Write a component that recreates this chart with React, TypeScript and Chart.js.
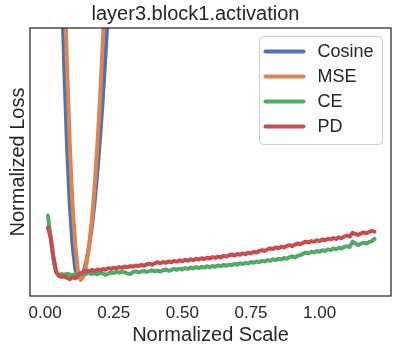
import React, { useEffect, useRef } from "react";
import { Chart, registerables } from "chart.js";

Chart.register(...registerables);

const TITLE = "layer3.block1.activation";
const X_LABEL = "Normalized Scale";
const Y_LABEL = "Normalized Loss";
const X_TICKS = [0, 0.25, 0.5, 0.75, 1.0];
const SERIES_NAMES = ["Cosine", "MSE", "CE", "PD"];
const COLORS = ["#4C72B0", "#DD8452", "#55A868", "#C44E52"];

// Cosine (blue) – steep V, leaves the plot at both sides
const COS_X = [0.04, 0.05, 0.06, 0.07, 0.08, 0.09, 0.1, 0.11, 0.12, 0.13, 0.14, 0.15, 0.16, 0.17, 0.18, 0.19, 0.2, 0.21, 0.22, 0.23, 0.24, 0.25];
const COS_Y = [2.1, 1.6, 1.19, 0.85, 0.56, 0.34, 0.19, 0.1, 0.07, 0.075, 0.09, 0.128, 0.183, 0.256, 0.348, 0.459, 0.587, 0.735, 0.9, 1.08, 1.29, 1.52];

// MSE (orange)
const MSE_X = [0.05, 0.06, 0.07, 0.08, 0.09, 0.1, 0.11, 0.12, 0.13, 0.14, 0.15, 0.16, 0.17, 0.18, 0.19, 0.2, 0.21, 0.22, 0.23];
const MSE_Y = [2.08, 1.6, 1.19, 0.85, 0.56, 0.34, 0.19, 0.09, 0.06, 0.074, 0.115, 0.184, 0.28, 0.405, 0.557, 0.736, 0.943, 1.178, 1.44];

// CE / PD sampled on a common grid
const XS = [
  0.01, 0.02, 0.03, 0.04, 0.05, 0.06, 0.07, 0.08, 0.09, 0.1,
  0.11, 0.12, 0.13, 0.14, 0.15, 0.16, 0.17, 0.18, 0.19, 0.2,
  0.21, 0.22, 0.23, 0.24, 0.25, 0.26, 0.27, 0.28, 0.29, 0.3,
  0.31, 0.32, 0.33, 0.34, 0.35, 0.36, 0.37, 0.38, 0.39, 0.4,
  0.41, 0.42, 0.43, 0.44, 0.45, 0.46, 0.47, 0.48, 0.49, 0.5,
  0.51, 0.52, 0.53, 0.54, 0.55, 0.56, 0.57, 0.58, 0.59, 0.6,
  0.61, 0.62, 0.63, 0.64, 0.65, 0.66, 0.67, 0.68, 0.69, 0.7,
  0.71, 0.72, 0.73, 0.74, 0.75, 0.76, 0.77, 0.78, 0.79, 0.8,
  0.81, 0.82, 0.83, 0.84, 0.85, 0.86, 0.87, 0.88, 0.89, 0.9,
  0.91, 0.92, 0.93, 0.94, 0.95, 0.96, 0.97, 0.98, 0.99, 1.0,
  1.01, 1.02, 1.03, 1.04, 1.05, 1.06, 1.07, 1.08, 1.09, 1.1,
  1.11, 1.12, 1.13, 1.14, 1.15, 1.16, 1.17, 1.18, 1.19, 1.2,
];

const CE = [
  0.3, 0.22, 0.14, 0.09, 0.078, 0.082, 0.079, 0.083, 0.08, 0.077,
  0.081, 0.079, 0.084, 0.08, 0.083, 0.086, 0.082, 0.085, 0.081, 0.087,
  0.084, 0.079, 0.083, 0.088, 0.086, 0.09, 0.087, 0.091, 0.088, 0.084,
  0.082, 0.089, 0.092, 0.088, 0.091, 0.094, 0.09, 0.093, 0.096, 0.092,
  0.095, 0.091, 0.096, 0.099, 0.094, 0.097, 0.101, 0.098, 0.102, 0.099,
  0.104, 0.101, 0.106, 0.103, 0.108, 0.104, 0.109, 0.106, 0.111, 0.107,
  0.112, 0.109, 0.114, 0.111, 0.116, 0.113, 0.117, 0.115, 0.12, 0.117,
  0.122, 0.119, 0.124, 0.121, 0.127, 0.124, 0.129, 0.126, 0.131, 0.129,
  0.134, 0.131, 0.137, 0.134, 0.139, 0.136, 0.142, 0.139, 0.145, 0.148,
  0.144, 0.15, 0.153, 0.158, 0.162, 0.159, 0.165, 0.162, 0.168, 0.165,
  0.171, 0.168, 0.174, 0.171, 0.177, 0.174, 0.18, 0.177, 0.183, 0.186,
  0.183, 0.203, 0.196, 0.19, 0.195, 0.199, 0.196, 0.201, 0.205, 0.213,
];

const PD = [
  0.255, 0.22, 0.15, 0.09, 0.075, 0.071, 0.074, 0.068, 0.063, 0.07,
  0.066, 0.078, 0.085, 0.09, 0.095, 0.092, 0.097, 0.094, 0.099, 0.096,
  0.101, 0.098, 0.104, 0.101, 0.106, 0.103, 0.108, 0.105, 0.11, 0.107,
  0.112, 0.109, 0.114, 0.111, 0.116, 0.113, 0.118, 0.121, 0.117, 0.122,
  0.126, 0.122, 0.127, 0.124, 0.129, 0.126, 0.131, 0.128, 0.133, 0.13,
  0.135, 0.132, 0.137, 0.134, 0.139, 0.136, 0.141, 0.138, 0.143, 0.14,
  0.145, 0.142, 0.147, 0.144, 0.15, 0.147, 0.152, 0.155, 0.151, 0.157,
  0.154, 0.159, 0.156, 0.162, 0.159, 0.165, 0.162, 0.168, 0.171, 0.168,
  0.174, 0.178, 0.175, 0.181, 0.178, 0.184, 0.181, 0.187, 0.19, 0.186,
  0.192, 0.196, 0.193, 0.199, 0.203, 0.2, 0.205, 0.202, 0.208, 0.205,
  0.211, 0.208, 0.214, 0.211, 0.216, 0.213, 0.219, 0.216, 0.222, 0.226,
  0.222, 0.236, 0.232, 0.228, 0.233, 0.237, 0.234, 0.239, 0.243, 0.24,
];

const FONT = "'Liberation Sans', Arial, Helvetica, sans-serif";
const TEXT = "#262626";

const framePlugin = {
  id: "frame",
  afterDatasetsDraw(chart: any) {
    const { ctx, chartArea } = chart;
    ctx.save();
    ctx.strokeStyle = TEXT;
    ctx.lineWidth = 1.25;
    ctx.strokeRect(chartArea.left, chartArea.top, chartArea.right - chartArea.left, chartArea.bottom - chartArea.top);
    ctx.restore();
  },
};

const legendPlugin = {
  id: "boxLegend",
  afterDraw(chart: any) {
    const { ctx, chartArea } = chart;
    const w = 123;
    const h = 108;
    const x0 = chartArea.right - 8.5 - w;
    const y0 = chartArea.top + 8.5;
    ctx.save();
    ctx.beginPath();
    (ctx as any).roundRect(x0, y0, w, h, 4);
    ctx.fillStyle = "rgba(255,255,255,0.8)";
    ctx.fill();
    ctx.strokeStyle = "#cccccc";
    ctx.lineWidth = 1;
    ctx.stroke();
    const dsList = chart.data.datasets;
    dsList.forEach((ds: any, i: number) => {
      const cy = y0 + 15 + i * 25;
      ctx.beginPath();
      ctx.lineCap = "round";
      ctx.strokeStyle = ds.borderColor;
      ctx.lineWidth = 4;
      ctx.moveTo(x0 + 6, cy);
      ctx.lineTo(x0 + 44, cy);
      ctx.stroke();
      ctx.fillStyle = TEXT;
      ctx.font = `18px ${FONT}`;
      ctx.textBaseline = "middle";
      ctx.textAlign = "left";
      ctx.fillText(ds.label, x0 + 58, cy + 1);
    });
    ctx.restore();
  },
};

export default function App() {
  const canvasRef = useRef<HTMLCanvasElement | null>(null);

  useEffect(() => {
    if (!canvasRef.current) return;
    Chart.defaults.font.family = FONT;
    Chart.defaults.color = TEXT;

    const mk = (xs: number[], ys: number[]) => xs.map((x, i) => ({ x, y: ys[i] }));
    const seriesData = [mk(COS_X, COS_Y), mk(MSE_X, MSE_Y), mk(XS, CE), mk(XS, PD)];

    const chart = new Chart(canvasRef.current, {
      type: "line",
      data: {
        datasets: SERIES_NAMES.map((name, i) => ({
          label: name,
          data: seriesData[i],
          borderColor: COLORS[i],
          backgroundColor: COLORS[i],
          borderWidth: 4,
          pointRadius: 0,
          tension: 0,
          fill: false,
          clip: 0,
          order: SERIES_NAMES.length - i,
          borderCapStyle: "round",
          borderJoinStyle: "round",
        })),
      },
      options: {
        responsive: false,
        animation: false,
        devicePixelRatio: 1,
        layout: { padding: { left: 0, right: 8, top: 0, bottom: 0 } },
        plugins: {
          legend: { display: false },
          tooltip: { enabled: false },
          title: {
            display: true,
            text: TITLE,
            color: TEXT,
            font: { size: 20, weight: "normal", family: FONT },
            padding: { top: 2, bottom: 2 },
          },
        },
        scales: {
          x: {
            type: "linear",
            min: -0.055,
            max: 1.26,
            grid: { display: false, drawTicks: false },
            border: { display: false },
            afterBuildTicks: (scale: any) => {
              scale.ticks = X_TICKS.map((v) => ({ value: v }));
            },
            afterFit: (scale: any) => {
              scale.height = 57;
            },
            ticks: {
              padding: 7,
              color: TEXT,
              font: { size: 17, family: FONT },
              maxRotation: 0,
              callback: (v: any) => Number(v).toFixed(2),
            },
            title: {
              display: true,
              text: X_LABEL,
              color: TEXT,
              font: { size: 20, family: FONT },
              padding: { top: 0, bottom: 6 },
            },
          },
          y: {
            type: "linear",
            min: 0,
            max: 1,
            grid: { display: false, drawTicks: false },
            border: { display: false },
            ticks: { display: false },
            afterFit: (scale: any) => {
              scale.width = 30;
            },
            title: {
              display: true,
              text: Y_LABEL,
              color: TEXT,
              font: { size: 20, family: FONT },
              padding: { top: 6, bottom: 0 },
            },
          },
        },
      },
      plugins: [framePlugin, legendPlugin],
    } as any);

    return () => chart.destroy();
  }, []);

  return (
    <div style={{ position: "absolute", left: 0, top: 0, width: 399, height: 353, background: "#fff" }}>
      <canvas ref={canvasRef} width={399} height={353} style={{ display: "block" }} />
    </div>
  );
}
